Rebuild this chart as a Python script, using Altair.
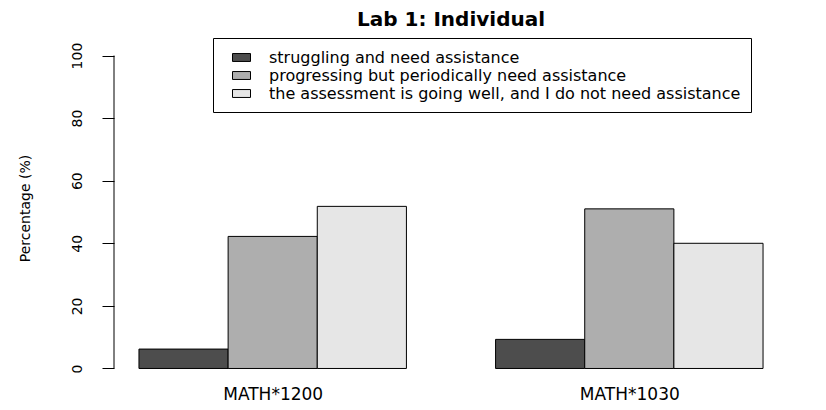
import altair as alt
import pandas as pd

# ---- data ----
courses = ["MATH*1200", "MATH*1030"]
responses = [
    "struggling and need assistance",
    "progressing but periodically need assistance",
    "the assessment is going well, and I do not need assistance",
]
math1200 = [6.2, 42.2, 51.8]
math1030 = [9.3, 51.0, 40.0]
grays = ["#4D4D4D", "#AEAEAE", "#E6E6E6"]
y_ticks = [0, 20, 40, 60, 80, 100]

FONT = "DejaVu Sans"

# R barplot(beside=TRUE) layout: bar width 1, one empty unit before each group
rows = []
group_centers = []
for g, (course, vals) in enumerate(zip(courses, [math1200, math1030])):
    base = 1 + g * (len(responses) + 1)
    group_centers.append(base + len(responses) / 2)
    for s, (resp, v) in enumerate(zip(responses, vals)):
        rows.append(dict(course=course, response=resp, value=v,
                         x0=base + s, x1=base + s + 1, order=s))
df = pd.DataFrame(rows)

left, right = df["x0"].min(), df["x1"].max()
ext = 0.04 * (right - left)
xdom = [left - ext, right + ext]
ydom = [y_ticks[0] - 0.04 * (y_ticks[-1] - y_ticks[0]),
        y_ticks[-1] + 0.04 * (y_ticks[-1] - y_ticks[0])]

label_expr = " : ".join(
    [f"datum.value == {c} ? '{n}'" for c, n in zip(group_centers, courses)] + ["''"]
)

xscale = alt.Scale(domain=xdom, nice=False, zero=False)
yscale = alt.Scale(domain=ydom, nice=False, zero=False)

bars = alt.Chart(df).mark_bar(stroke="black", strokeWidth=1).encode(
    x=alt.X("x0:Q", scale=xscale,
            axis=alt.Axis(values=group_centers, labelExpr=label_expr, title=None,
                          domain=False, ticks=False, grid=False,
                          labelFont=FONT, labelFontSize=17, labelColor="black",
                          labelPadding=5)),
    x2="x1:Q",
    y=alt.Y("value:Q", scale=yscale,
            axis=alt.Axis(values=y_ticks, title="Percentage (%)", domain=False,
                          grid=False, tickColor="black", tickSize=12,
                          labelAngle=270, labelAlign="center", labelBaseline="bottom",
                          labelPadding=18, labelFont=FONT, labelFontSize=14,
                          labelColor="black",
                          titleFont=FONT, titleFontSize=14, titleFontWeight="normal",
                          titleColor="black", titleAngle=270, titleAlign="center",
                          titleBaseline="middle", titleX=-89, titleY=165)),
    y2=alt.datum(0),
    color=alt.Color("response:N",
                    scale=alt.Scale(domain=responses, range=grays),
                    legend=alt.Legend(
                        title=None, orient="none", legendX=99, legendY=-5,
                        fillColor="white", strokeColor="black", padding=10,
                        symbolType="M-1,-0.44H1V0.44H-1Z", symbolSize=324,
                        symbolStrokeColor="black", symbolStrokeWidth=1,
                        symbolOffset=9, labelOffset=18, rowPadding=0,
                        labelFont=FONT, labelFontSize=16, labelColor="black",
                        labelLimit=0)),
)

axis_line = alt.Chart(pd.DataFrame({"x": [xdom[0]], "y": [y_ticks[0]], "y2": [y_ticks[-1]]})
                      ).mark_rule(color="black", strokeWidth=1).encode(
    x=alt.X("x:Q", scale=xscale),
    y=alt.Y("y:Q", scale=yscale),
    y2="y2:Q",
)

chart = alt.layer(bars, axis_line).properties(
    width=674, height=338,
    title=alt.Title("Lab 1: Individual", font=FONT, fontSize=20, fontWeight="bold",
                    color="black", anchor="middle", offset=8),
    autosize=alt.AutoSizeParams(type="none"),
    padding={"left": 106, "top": 35, "right": 30, "bottom": 29},
    background="white",
).configure_view(stroke=None)

chart.save("out.html", embed_options={"renderer": "svg", "actions": False})
